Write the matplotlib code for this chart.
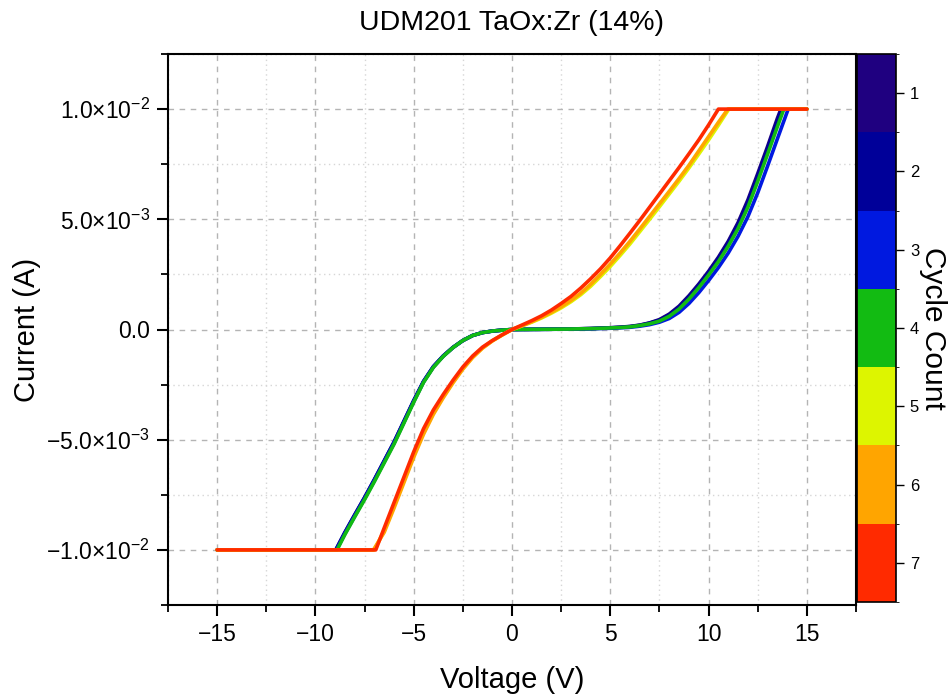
import numpy as np
import matplotlib
matplotlib.use("Agg")
import matplotlib.pyplot as plt
from matplotlib.colors import ListedColormap, BoundaryNorm
from matplotlib.cm import ScalarMappable
from matplotlib.ticker import MultipleLocator, FuncFormatter

plt.rcParams['font.family'] = ['Liberation Sans', 'DejaVu Sans']
plt.rcParams['mathtext.fontset'] = 'custom'
plt.rcParams['mathtext.rm'] = 'Liberation Sans'
plt.rcParams['mathtext.it'] = 'Liberation Sans:italic'
plt.rcParams['axes.unicode_minus'] = True

# ---- I-V sweeps, one per cycle (voltage in V, current in mA) ----
cycles = [1, 2, 3, 4, 5, 6, 7]
cycle_colors = ['#1F0080', '#000099', '#0019E0', '#12BB12',
                '#DDF500', '#FFA500', '#FF2A00']

v_neg_1 = [-15, -8.95, -8.5, -8.0, -7.5, -7.0, -6.5, -6.0, -5.5, -5.0, -4.5, -4.0, -3.5, -3.0, -2.5, -2.0, -1.5, -1.0, -0.5, 0]
i_neg_1 = [-10, -10, -9.22, -8.42, -7.64, -6.82, -5.97, -5.12, -4.18, -3.24, -2.36, -1.69, -1.2, -0.81, -0.5, -0.27, -0.14, -0.07, -0.03, 0]
v_pos_1 = [0, 0.5, 1, 2, 3, 4, 5, 5.5, 6, 6.5, 7, 7.5, 8, 8.5, 9, 9.5, 10, 10.5, 11, 11.5, 12, 12.5, 13, 13.5, 13.68, 15]
i_pos_1 = [0, 0.003, 0.006, 0.013, 0.024, 0.045, 0.08, 0.105, 0.14, 0.2, 0.3, 0.45, 0.7, 1.06, 1.53, 2.06, 2.64, 3.28, 4.0, 4.85, 5.88, 7.07, 8.3, 9.58, 10, 10]

v_neg_2 = [-15, -8.97, -8.5, -8.0, -7.5, -7.0, -6.5, -6.0, -5.5, -5.0, -4.5, -4.0, -3.5, -3.0, -2.5, -2.0, -1.5, -1.0, -0.5, 0]
i_neg_2 = [-10, -10, -9.2, -8.4, -7.62, -6.8, -5.95, -5.1, -4.16, -3.22, -2.35, -1.68, -1.2, -0.81, -0.5, -0.27, -0.14, -0.07, -0.03, 0]
v_pos_2 = [0, 0.5, 1, 2, 3, 4, 5, 5.5, 6, 6.5, 7, 7.5, 8, 8.5, 9, 9.5, 10, 10.5, 11, 11.5, 12, 12.5, 13, 13.5, 13.72, 15]
i_pos_2 = [0, 0.003, 0.006, 0.012, 0.023, 0.043, 0.075, 0.1, 0.13, 0.19, 0.29, 0.42, 0.66, 1.01, 1.48, 2.01, 2.59, 3.22, 3.93, 4.77, 5.78, 6.96, 8.2, 9.45, 10, 10]

v_neg_3 = [-15, -8.93, -8.5, -8.0, -7.5, -7.0, -6.5, -6.0, -5.5, -5.0, -4.5, -4.0, -3.5, -3.0, -2.5, -2.0, -1.5, -1.0, -0.5, 0]
i_neg_3 = [-10, -10, -9.27, -8.47, -7.68, -6.86, -6.01, -5.16, -4.22, -3.27, -2.38, -1.7, -1.21, -0.82, -0.5, -0.27, -0.14, -0.07, -0.03, 0]
v_pos_3 = [0, 0.5, 1, 2, 3, 4, 5, 5.5, 6, 6.5, 7, 7.5, 8, 8.5, 9, 9.5, 10, 10.5, 11, 11.5, 12, 12.5, 13, 13.5, 14.05, 15]
i_pos_3 = [0, 0.002, 0.005, 0.01, 0.018, 0.032, 0.055, 0.075, 0.1, 0.15, 0.22, 0.33, 0.5, 0.78, 1.18, 1.67, 2.22, 2.81, 3.47, 4.23, 5.12, 6.2, 7.41, 8.65, 10, 10]

v_neg_4 = [-15, -8.9, -8.5, -8.0, -7.5, -7.0, -6.5, -6.0, -5.5, -5.0, -4.5, -4.0, -3.5, -3.0, -2.5, -2.0, -1.5, -1.0, -0.5, 0]
i_neg_4 = [-10, -10, -9.3, -8.5, -7.72, -6.9, -6.05, -5.2, -4.25, -3.3, -2.4, -1.72, -1.22, -0.82, -0.5, -0.27, -0.14, -0.07, -0.03, 0]
v_pos_4 = [0, 0.5, 1, 2, 3, 4, 5, 5.5, 6, 6.5, 7, 7.5, 8, 8.5, 9, 9.5, 10, 10.5, 11, 11.5, 12, 12.5, 13, 13.5, 13.83, 15]
i_pos_4 = [0, 0.003, 0.006, 0.012, 0.022, 0.04, 0.07, 0.09, 0.12, 0.18, 0.26, 0.38, 0.6, 0.93, 1.38, 1.9, 2.47, 3.08, 3.78, 4.58, 5.55, 6.72, 7.95, 9.2, 10, 10]

v_neg_5 = [-15, -7.0, -6.5, -6.0, -5.5, -5.0, -4.5, -4.0, -3.5, -3.0, -2.5, -2.0, -1.5, -1.0, -0.5, 0]
i_neg_5 = [-10, -10, -9.12, -8.0, -6.85, -5.7, -4.65, -3.78, -3.05, -2.38, -1.76, -1.25, -0.83, -0.51, -0.25, 0]
v_pos_5 = [0, 0.5, 1, 1.5, 2, 2.5, 3, 3.5, 4, 4.5, 5, 5.5, 6, 6.5, 7, 7.5, 8, 8.5, 9, 9.5, 10, 10.5, 11.03, 15]
i_pos_5 = [0, 0.16, 0.33, 0.52, 0.74, 0.98, 1.26, 1.58, 1.96, 2.4, 2.86, 3.36, 3.88, 4.44, 5.0, 5.57, 6.15, 6.73, 7.33, 7.96, 8.6, 9.27, 10, 10]

v_neg_6 = [-15, -7.05, -6.5, -6.0, -5.5, -5.0, -4.5, -4.0, -3.5, -3.0, -2.5, -2.0, -1.5, -1.0, -0.5, 0]
i_neg_6 = [-10, -10, -9.2, -8.1, -6.95, -5.8, -4.75, -3.85, -3.1, -2.42, -1.8, -1.27, -0.85, -0.52, -0.25, 0]
v_pos_6 = [0, 0.5, 1, 1.5, 2, 2.5, 3, 3.5, 4, 4.5, 5, 5.5, 6, 6.5, 7, 7.5, 8, 8.5, 9, 9.5, 10, 10.5, 10.98, 15]
i_pos_6 = [0, 0.17, 0.35, 0.55, 0.78, 1.03, 1.32, 1.65, 2.05, 2.5, 2.97, 3.47, 4.0, 4.56, 5.13, 5.7, 6.27, 6.85, 7.45, 8.1, 8.75, 9.4, 10, 10]

v_neg_7 = [-15, -6.93, -6.5, -6.0, -5.5, -5.0, -4.5, -4.0, -3.5, -3.0, -2.5, -2.0, -1.5, -1.0, -0.5, 0]
i_neg_7 = [-10, -10, -9.0, -7.85, -6.7, -5.55, -4.5, -3.65, -2.95, -2.3, -1.7, -1.2, -0.8, -0.5, -0.24, 0]
v_pos_7 = [0, 0.5, 1, 1.5, 2, 2.5, 3, 3.5, 4, 4.5, 5, 5.5, 6, 6.5, 7, 7.5, 8, 8.5, 9, 9.5, 10, 10.5, 15]
i_pos_7 = [0, 0.2, 0.4, 0.62, 0.88, 1.18, 1.5, 1.88, 2.3, 2.75, 3.25, 3.8, 4.37, 4.95, 5.55, 6.15, 6.75, 7.35, 7.97, 8.6, 9.28, 10, 10]

sweeps = [
    (v_neg_1 + v_pos_1[1:], i_neg_1 + i_pos_1[1:]),
    (v_neg_2 + v_pos_2[1:], i_neg_2 + i_pos_2[1:]),
    (v_neg_3 + v_pos_3[1:], i_neg_3 + i_pos_3[1:]),
    (v_neg_4 + v_pos_4[1:], i_neg_4 + i_pos_4[1:]),
    (v_neg_5 + v_pos_5[1:], i_neg_5 + i_pos_5[1:]),
    (v_neg_6 + v_pos_6[1:], i_neg_6 + i_pos_6[1:]),
    (v_neg_7 + v_pos_7[1:], i_neg_7 + i_pos_7[1:]),
]

x_ticks = [-15, -10, -5, 0, 5, 10, 15]
y_ticks = [-1.0e-2, -5.0e-3, 0.0, 5.0e-3, 1.0e-2]

fig = plt.figure(figsize=(9.53, 6.98), dpi=100)
ax = fig.add_axes([168 / 953, 1 - 605 / 698, (856 - 168) / 953, (605 - 54) / 698])
cax = fig.add_axes([857 / 953, 1 - 602 / 698, 39 / 953, (602 - 54) / 698])

for (v, i), col in zip(sweeps, cycle_colors):
    ax.plot(v, np.asarray(i) * 1e-3, color=col, lw=2.6,
            solid_joinstyle='round', solid_capstyle='round', zorder=3)

ax.set_xlim(-17.5, 17.5)
ax.set_ylim(-0.0125, 0.0125)
ax.set_xticks(x_ticks)
ax.set_yticks(y_ticks)
ax.xaxis.set_minor_locator(MultipleLocator(2.5))
ax.yaxis.set_minor_locator(MultipleLocator(2.5e-3))


def sci_label(val, pos):
    if val == 0:
        return '0.0'
    exp = int(np.floor(np.log10(abs(val))))
    mant = val / 10 ** exp
    return r'$%s{\times}10^{%d}$' % (('%.1f' % mant).replace('-', '\u2212'), exp)


ax.yaxis.set_major_formatter(FuncFormatter(sci_label))

ax.grid(which='major', color='#b4b4b4', linestyle=(0, (4, 4)), lw=1.0, zorder=0)
ax.grid(which='minor', color='#d6d6d6', linestyle=(0, (1, 2.5)), lw=1.0, zorder=0)
ax.set_axisbelow(True)

for side in ['left', 'bottom', 'top', 'right']:
    ax.spines[side].set_linewidth(1.5)
ax.tick_params(which='major', direction='out', length=8, width=1.5,
               labelsize=16.5, pad=5, top=False, right=False)
ax.tick_params(which='minor', direction='out', length=5, width=1.3,
               top=False, right=False)

ax.set_xlabel('Voltage (V)', fontsize=21, labelpad=14)
ax.set_ylabel('Current (A)', fontsize=21, labelpad=4)
ax.set_title('UDM201 TaOx:Zr (14%)', fontsize=20.5, pad=17)

# discrete colour bar for cycle number
cmap = ListedColormap(cycle_colors)
norm = BoundaryNorm(np.arange(0.5, len(cycles) + 1.0, 1.0), cmap.N)
cb = fig.colorbar(ScalarMappable(norm=norm, cmap=cmap), cax=cax, ticks=cycles)
cax.invert_yaxis()
cb.outline.set_linewidth(1.2)
cax.tick_params(length=6, width=1.0, labelsize=12, pad=4)
fig.text(933 / 953, 1 - 328 / 698, 'Cycle Count', rotation=270,
         fontsize=21.5, ha='center', va='center')

fig.savefig('out.png', dpi=100)
